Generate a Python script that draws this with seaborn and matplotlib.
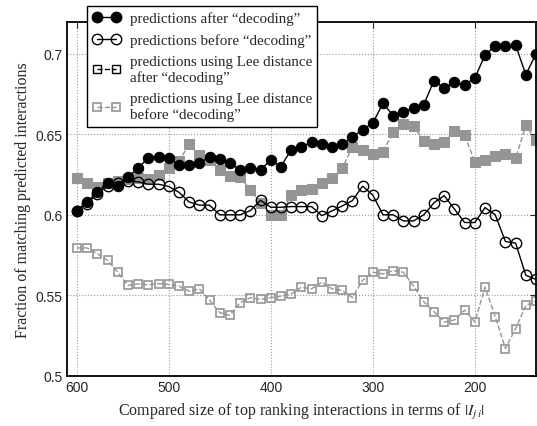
import matplotlib
matplotlib.use('Agg')
import matplotlib.pyplot as plt
from matplotlib.lines import Line2D
import numpy as np
import seaborn as sns

# point positions along the (reversed) size axis, and the tick labels
positions = list(range(46))
tick_pos = [0, 9, 19, 29, 39]
tick_lab = ['600', '500', '400', '300', '200']

after_dec = [0.6026, 0.608, 0.614, 0.620, 0.618, 0.6236, 0.629, 0.6355, 0.636, 0.635,
             0.631, 0.631, 0.632, 0.636, 0.6345, 0.632, 0.628, 0.629, 0.628, 0.634,
             0.630, 0.6405, 0.6422, 0.6452, 0.6438, 0.6422, 0.6438, 0.6483, 0.6529, 0.657,
             0.6693, 0.6617, 0.6638, 0.6665, 0.6685, 0.6834, 0.6789, 0.6823, 0.6809, 0.685,
             0.6993, 0.705, 0.705, 0.7054, 0.6871, 0.700]

before_dec = [0.6026, 0.607, 0.613, 0.618, 0.620, 0.621, 0.6205, 0.619, 0.619, 0.6176,
              0.614, 0.608, 0.606, 0.606, 0.600, 0.600, 0.600, 0.6026, 0.609, 0.6047,
              0.6047, 0.6051, 0.6051, 0.6051, 0.5995, 0.6024, 0.6055, 0.6088, 0.6178, 0.6123,
              0.600, 0.600, 0.5962, 0.5962, 0.600, 0.6075, 0.6119, 0.6036, 0.5952, 0.5952,
              0.6045, 0.600, 0.5834, 0.5824, 0.5624, 0.5598]

lee_after = [0.623, 0.620, 0.617, 0.6195, 0.621, 0.622, 0.623, 0.622, 0.625, 0.6288,
             0.6333, 0.6438, 0.637, 0.6343, 0.6277, 0.624, 0.6236, 0.6154, 0.6072, 0.600,
             0.600, 0.6126, 0.6154, 0.6158, 0.6195, 0.6226, 0.6288, 0.6422, 0.640, 0.638,
             0.639, 0.6514, 0.6566, 0.655, 0.6459, 0.6438, 0.6452, 0.6518, 0.6494, 0.6329,
             0.6343, 0.6364, 0.638, 0.635, 0.6556, 0.6463]

lee_before = [0.5794, 0.5794, 0.5758, 0.5717, 0.5643, 0.5561, 0.5571, 0.5565, 0.5573, 0.5567,
              0.5556, 0.5525, 0.554, 0.547, 0.5392, 0.5375, 0.5454, 0.5485, 0.5474, 0.5485,
              0.5494, 0.5508, 0.555, 0.554, 0.5581, 0.554, 0.553, 0.5485, 0.5593, 0.5643,
              0.5633, 0.5653, 0.5643, 0.5556, 0.546, 0.5398, 0.5334, 0.5346, 0.5408, 0.5334,
              0.555, 0.5367, 0.5169, 0.5293, 0.5437, 0.5464]

labels = ['predictions after \u201cdecoding\u201d',
          'predictions before \u201cdecoding\u201d',
          'predictions using Lee distance\nafter \u201cdecoding\u201d',
          'predictions using Lee distance\nbefore \u201cdecoding\u201d']

sns.set_style('white')
plt.rcParams['font.family'] = ['Liberation Sans', 'DejaVu Sans']
plt.rcParams['mathtext.fontset'] = 'stix'

grey = '#959595'
fig = plt.figure(figsize=(5.37, 4.27), dpi=100)
ax = fig.add_axes([0.1242, 0.1178, 0.8740, 0.829])

sns.lineplot(x=positions, y=lee_after, ax=ax, color=grey, linestyle='--', linewidth=1,
             marker='s', markersize=6.5, markerfacecolor=grey, markeredgecolor=grey)
sns.lineplot(x=positions, y=lee_before, ax=ax, color=grey, linestyle='--', linewidth=1,
             marker='s', markersize=6, markerfacecolor='none', markeredgecolor=grey,
             markeredgewidth=1.2)
sns.lineplot(x=positions, y=before_dec, ax=ax, color='black', linewidth=1,
             marker='o', markersize=7.5, markerfacecolor='none', markeredgecolor='black',
             markeredgewidth=1.0)
sns.lineplot(x=positions, y=after_dec, ax=ax, color='black', linewidth=1,
             marker='o', markersize=7.5, markerfacecolor='black', markeredgecolor='black')

ax.set_xlim(-1, 45)
ax.set_ylim(0.5, 0.72)
ax.set_xticks(tick_pos)
ax.set_xticklabels(tick_lab, fontsize=10)
ax.set_yticks([0.5, 0.55, 0.6, 0.65, 0.7])
ax.set_yticklabels(['0.5', '0.55', '0.6', '0.65', '0.7'], fontsize=10)
ax.tick_params(direction='in', length=4, width=0.8, top=True, right=True, pad=3)
ax.grid(True, linestyle=':', linewidth=0.8, color='#9a9a9a')
for s in ax.spines.values():
    s.set_visible(True)
    s.set_color('black')
    s.set_linewidth(1.3)

ax.set_xlabel(r'Compared size of top ranking interactions in terms of $|I_{j\,i}|$',
              family='Liberation Serif', fontsize=11.5, labelpad=5)
ax.set_ylabel('Fraction of matching predicted interactions',
              family='Liberation Serif', fontsize=11.5, labelpad=3)

handles = [
    Line2D([], [], color='black', linewidth=1, marker='o', markersize=7.5,
           markerfacecolor='black', markeredgecolor='black'),
    Line2D([], [], color='black', linewidth=1, marker='o', markersize=7.5,
           markerfacecolor='none', markeredgecolor='black'),
    Line2D([], [], color='black', linewidth=1, linestyle='--', marker='s', markersize=6,
           markerfacecolor='none', markeredgecolor='black'),
    Line2D([], [], color=grey, linewidth=1, linestyle='--', marker='s', markersize=6,
           markerfacecolor='none', markeredgecolor=grey, markeredgewidth=1.2),
]
leg = fig.legend(handles, labels, loc='upper left', bbox_to_anchor=(0.162, 0.984),
                 numpoints=2, handlelength=1.9, handletextpad=0.6, borderpad=0.35,
                 borderaxespad=0, labelspacing=0.55, fancybox=False, framealpha=1,
                 edgecolor='black', prop={'family': 'Liberation Serif', 'size': 10.8})
leg.get_frame().set_linewidth(1.0)

fig.savefig('out.png', dpi=100)
